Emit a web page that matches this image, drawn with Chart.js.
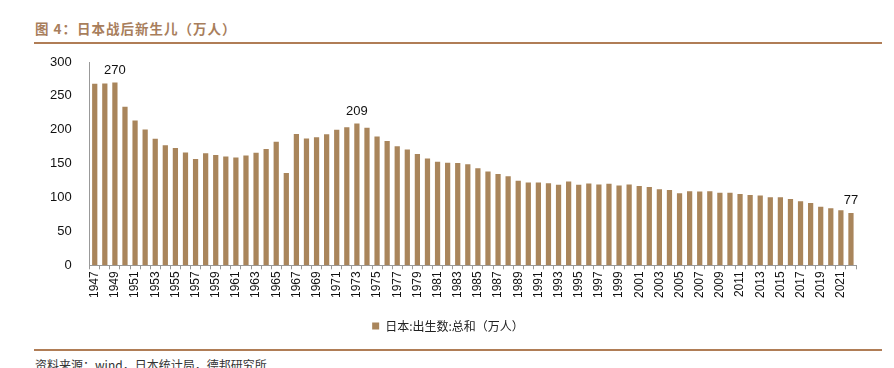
<!DOCTYPE html>
<html>
<head>
<meta charset="utf-8">
<script src="https://cdn.jsdelivr.net/npm/chart.js@4"></script>
<style>
  body { margin: 0; background: #fff; }
  #wrap { position: relative; width: 894px; height: 368px; overflow: hidden; }
  #title { position: absolute; left: 35px; top: 18px; font: bold 13.5px "Noto Sans CJK SC"; color: #a87e5c; letter-spacing: 1px; }
  .rule { position: absolute; left: 34px; width: 848px; height: 2px; background: #b07d56; z-index: 2; }
  #source { position: absolute; left: 35px; top: 356px; font: 12px "Noto Sans CJK SC"; color: #333; }
  #box { position: absolute; left: 0; top: 0; width: 894px; height: 342px; }
</style>
</head>
<body>
<div id="wrap">
  <div id="title">图 4：日本战后新生儿（万人）</div>
  <div class="rule" style="top:42px"></div>
  <div id="box"><canvas id="chart"></canvas></div>
  <div class="rule" style="top:349px"></div>
  <div id="source">资料来源：wind，日本统计局，德邦研究所</div>
</div>
<script>
// =====================================================
// DATA
// =====================================================

// years 1947 - 2022
const years = [
  '1947','1948','1949','1950','1951','1952','1953','1954','1955','1956',
  '1957','1958','1959','1960','1961','1962','1963','1964','1965','1966',
  '1967','1968','1969','1970','1971','1972','1973','1974','1975','1976',
  '1977','1978','1979','1980','1981','1982','1983','1984','1985','1986',
  '1987','1988','1989','1990','1991','1992','1993','1994','1995','1996',
  '1997','1998','1999','2000','2001','2002','2003','2004','2005','2006',
  '2007','2008','2009','2010','2011','2012','2013','2014','2015','2016',
  '2017','2018','2019','2020','2021','2022'
];

// births (10k people)
const births = [
  267.9, 268.2, 269.7, 233.8, 213.8, 200.5, 186.8, 177.0, 173.1, 166.5,
  156.7, 165.3, 162.6, 160.6, 158.9, 161.9, 166.0, 171.7, 182.4, 136.1,
  193.6, 187.2, 189.0, 193.4, 200.1, 203.9, 209.2, 203.0, 190.1, 183.3,
  175.5, 170.9, 164.3, 157.7, 152.9, 151.5, 150.9, 149.0, 143.2, 138.3,
  134.7, 131.4, 124.7, 122.2, 122.3, 120.9, 118.8, 123.8, 118.7, 120.7,
  119.2, 120.3, 117.8, 119.1, 117.1, 115.4, 112.4, 111.1, 106.3, 109.3,
  109.0, 109.1, 107.0, 107.1, 105.1, 103.7, 103.0, 100.4, 100.6, 97.7,
  94.6, 91.8, 86.5, 84.1, 81.2, 77.1
];

// which bars get a value label, and the text shown
const labelYears = ['1949', '1973', '2022'];
const labelTexts = ['270', '209', '77'];

const yTicks = [0, 50, 100, 150, 200, 250, 300];

const seriesName = '日本:出生数:总和（万人）';

// =====================================================
// value labels above selected bars
// =====================================================
const barLabels = {
  id: 'barLabels',
  afterDatasetsDraw(chart) {
    const ctx = chart.ctx;
    const meta = chart.getDatasetMeta(0);
    ctx.save();
    ctx.font = '13px "Liberation Sans"';
    ctx.fillStyle = '#111';
    ctx.textAlign = 'center';
    ctx.textBaseline = 'bottom';
    labelYears.forEach((yr, i) => {
      const idx = years.indexOf(yr);
      const bar = meta.data[idx];
      ctx.fillText(labelTexts[i], bar.x, bar.y - 6);
    });
    ctx.restore();
  }
};

new Chart(document.getElementById('chart'), {
  type: 'bar',
  data: {
    labels: years,
    datasets: [{
      label: seriesName,
      data: births,
      backgroundColor: '#a9855b',
      barPercentage: 0.52,
      categoryPercentage: 1
    }]
  },
  options: {
    responsive: true,
    maintainAspectRatio: false,
    animation: false,
    layout: { padding: { left: 40, right: 38, top: 62, bottom: 0 } },
    plugins: {
      legend: {
        position: 'bottom',
        labels: {
          boxWidth: 7, boxHeight: 7,
          color: '#222',
          font: { family: 'Noto Sans CJK SC', size: 12 },
          padding: 20
        }
      },
      tooltip: { enabled: false }
    },
    scales: {
      x: {
        grid: { drawOnChartArea: false, color: '#999', tickLength: 4 },
        border: { color: '#999' },
        ticks: {
          autoSkip: false,
          maxRotation: 90, minRotation: 90,
          color: '#111',
          font: { family: 'Liberation Sans', size: 12 },
          padding: 2,
          callback: (v, i) => (i % 2 === 0 ? years[i] : '')
        }
      },
      y: {
        min: 0, max: 300,
        afterBuildTicks: axis => { axis.ticks = yTicks.map(v => ({ value: v })); },
        grid: { display: false },
        border: { color: '#999' },
        ticks: {
          color: '#111',
          font: { family: 'Liberation Sans', size: 13 },
          padding: 10
        }
      }
    }
  },
  plugins: [barLabels]
});
</script>
</body>
</html>
